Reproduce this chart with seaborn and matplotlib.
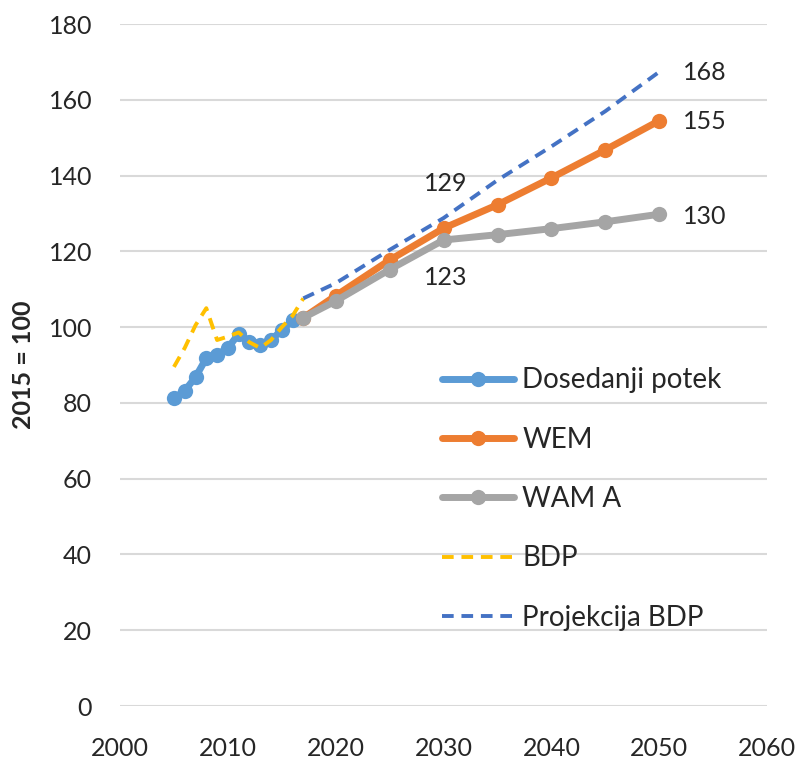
import matplotlib
matplotlib.use("Agg")
import matplotlib.pyplot as plt
import seaborn as sns

# historical data (index, 2015 = 100)
hist_years = list(range(2005, 2017))
hist_values = [81.2, 83.2, 86.8, 91.8, 92.7, 94.5, 98.2, 96.2, 95.3, 96.6, 99.2, 101.8]

# GDP, history
bdp_years = list(range(2005, 2018))
bdp_values = [89.5, 94.5, 100.5, 105.0, 96.6, 97.5, 98.6, 96.0, 94.5, 96.6, 100.0, 103.0, 107.6]

# projections
proj_years = [2017, 2020, 2025, 2030, 2035, 2040, 2045, 2050]
wem_values = [102.5, 108.3, 117.7, 126.1, 132.3, 139.4, 146.8, 154.5]
wam_values = [102.5, 106.9, 115.2, 123.0, 124.4, 126.0, 127.8, 129.8]
bdp_proj_values = [107.6, 111.6, 120.4, 128.8, 138.8, 147.7, 157.0, 167.4]

sns.set_style("white")
plt.rcParams['font.family'] = ['Lato', 'DejaVu Sans']

fig = plt.figure(figsize=(8, 7.58), dpi=100)
ax = fig.add_axes([0.15, 0.0686, 0.809, 0.8997])

thick = dict(linewidth=5, marker='o', markersize=11, markeredgewidth=0)
sns.lineplot(x=hist_years, y=hist_values, color='#5B9BD5', label='Dosedanji potek', ax=ax, **thick)
sns.lineplot(x=proj_years, y=wem_values, color='#ED7D31', label='WEM', ax=ax, **thick)
sns.lineplot(x=proj_years, y=wam_values, color='#A5A5A5', label='WAM A', ax=ax, **thick)
sns.lineplot(x=bdp_years, y=bdp_values, color='#FFC000', label='BDP', ax=ax,
             linewidth=2.8, linestyle=(0, (3, 2)))
sns.lineplot(x=proj_years, y=bdp_proj_values, color='#4472C4', label='Projekcija BDP', ax=ax,
             linewidth=2.8, linestyle=(0, (3, 2)))

ax.set_xlim(2000, 2060)
ax.set_ylim(0, 180)
ax.set_xticks(range(2000, 2061, 10))
ax.set_yticks(range(0, 181, 20))
ax.grid(axis='y', color='#D9D9D9', linewidth=1.5)
ax.set_axisbelow(True)
for s in ax.spines.values():
    s.set_visible(False)
ax.tick_params(axis='both', length=0, labelsize=18)
ax.tick_params(axis='y', pad=20)
ax.tick_params(axis='x', pad=22)
ax.set_xlabel('')
ax.set_ylabel('2015 = 100', fontsize=18, fontweight='bold', labelpad=10)

# value labels
lab = dict(fontsize=18, va='center')
ax.text(2052.2, 167.2, '168', ha='left', **lab)
ax.text(2052.2, 154.2, '155', ha='left', **lab)
ax.text(2052.2, 129.2, '130', ha='left', **lab)
ax.text(2030.2, 138.0, '129', ha='center', **lab)
ax.text(2030.2, 113.0, '123', ha='center', **lab)

leg = ax.legend(loc='upper left', bbox_to_anchor=(0.48, 0.513), frameon=False,
                fontsize=20, handlelength=2.6, handletextpad=0.3,
                labelspacing=1.2, borderaxespad=0)

fig.savefig('out.png', dpi=100)
